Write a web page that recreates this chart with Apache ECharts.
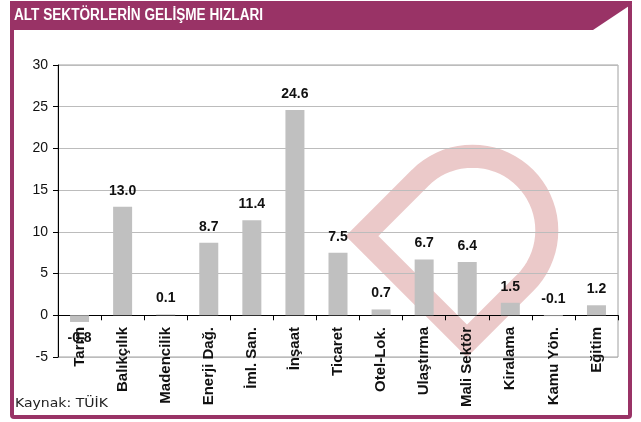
<!DOCTYPE html>
<html>
<head>
<meta charset="utf-8">
<script src="https://cdn.jsdelivr.net/npm/echarts@6/dist/echarts.min.js"></script>
<style>
  html, body { margin: 0; padding: 0; background: #fff; }
  #chart { width: 641px; height: 422px; }
</style>
</head>
<body>
<div id="chart"></div>
<script>
// sektör adları ve büyüme hızları (%)
var sectors = ['Tarım', 'Balıkçılık', 'Madencilik', 'Enerji Dağ.', 'İml. San.', 'İnşaat', 'Ticaret',
    'Otel-Lok.', 'Ulaştırma', 'Mali Sektör', 'Kiralama', 'Kamu Yön.', 'Eğitim'];
var growth = [-0.8, 13.0, 0.1, 8.7, 11.4, 24.6, 7.5, 0.7, 6.7, 6.4, 1.5, -0.1, 1.2];
var yTicks = [-5, 0, 5, 10, 15, 20, 25, 30];

var purple = '#993366';

var chart = echarts.init(document.getElementById('chart'));

var barData = growth.map(function (v, i) {
    var item = { value: v };
    if (sectors[i] === 'Tarım') {
        item.label = { position: 'bottom' };
    }
    return item;
});

// filigran şekli: iki köşe + yarım daire
var markPts = [[420, 178], [362, 236], [467, 341], [525, 283]];
for (var k = 1; k < 36; k++) {
    var a = Math.PI / 4 - Math.PI * k / 36;
    markPts.push([472.5 + 74.3 * Math.cos(a), 230.5 + 74.3 * Math.sin(a)]);
}

var option = {
    backgroundColor: '#fff',
    animation: false,
    grid: {
        left: 58,
        right: 23,
        top: 65,
        bottom: 65,
        outerBoundsMode: 'none',
        containLabel: false,
        show: true,
        borderColor: '#a0a0a0',
        borderWidth: 1,
        backgroundColor: 'transparent'
    },
    xAxis: {
        type: 'category',
        data: sectors,
        axisLine: { onZero: true, lineStyle: { color: '#000', width: 1 } },
        axisTick: { show: true, length: 5, lineStyle: { color: '#000' } },
        axisLabel: {
            interval: 0,
            rotate: 90,
            margin: -30, // etiketler sıfır çizgisinin hemen altında
            fontSize: 15,
            fontWeight: 'bold',
            fontFamily: 'Liberation Sans, Arial, sans-serif',
            color: '#111'
        },
        splitLine: { show: false }
    },
    yAxis: {
        type: 'value',
        min: yTicks[0],
        max: yTicks[yTicks.length - 1],
        interval: 5,
        axisLine: { show: true, lineStyle: { color: '#000' } },
        axisTick: { show: true, length: 5, lineStyle: { color: '#000' } },
        axisLabel: {
            margin: 10,
            fontSize: 14,
            fontFamily: 'Liberation Sans, Arial, sans-serif',
            color: '#111'
        },
        splitLine: { lineStyle: { color: '#bcbcbc', width: 1 } }
    },
    series: [{
        type: 'bar',
        data: barData,
        barWidth: 19,
        itemStyle: { color: '#c0c0c0' },
        label: {
            show: true,
            position: 'top',
            distance: 9,
            fontSize: 14,
            fontWeight: 'bold',
            fontFamily: 'Liberation Sans, Arial, sans-serif',
            color: '#111',
            formatter: function (p) { return p.value.toFixed(1); }
        }
    }],
    graphic: [
        {
            type: 'polygon',
            z: -10,
            silent: true,
            shape: { points: markPts },
            style: { fill: 'none', stroke: '#ebc9c9', lineWidth: 23, lineJoin: 'miter' }
        },
        // çerçeve
        {
            type: 'rect',
            shape: { x: 12, y: 3, width: 618, height: 414, r: 2 },
            style: { fill: 'none', stroke: purple, lineWidth: 4 }
        },
        // başlık şeridi
        {
            type: 'polygon',
            shape: { points: [[10, 1], [632, 1], [632, 4], [593, 30], [10, 30]] },
            style: { fill: purple }
        },
        {
            type: 'text',
            x: 14,
            y: 8,
            scaleX: 0.85,
            style: {
                text: 'ALT SEKTÖRLERİN GELİŞME HIZLARI',
                fill: '#fff',
                fontSize: 16,
                fontWeight: 'bold',
                fontFamily: 'Liberation Sans, Arial, sans-serif'
            }
        },
        {
            type: 'text',
            x: 15,
            y: 397,
            scaleX: 1.08,
            style: {
                text: 'Kaynak: TÜİK',
                fill: '#222',
                fontSize: 13,
                fontFamily: 'DejaVu Sans, Verdana, sans-serif'
            }
        }
    ]
};

chart.setOption(option);
</script>
</body>
</html>
